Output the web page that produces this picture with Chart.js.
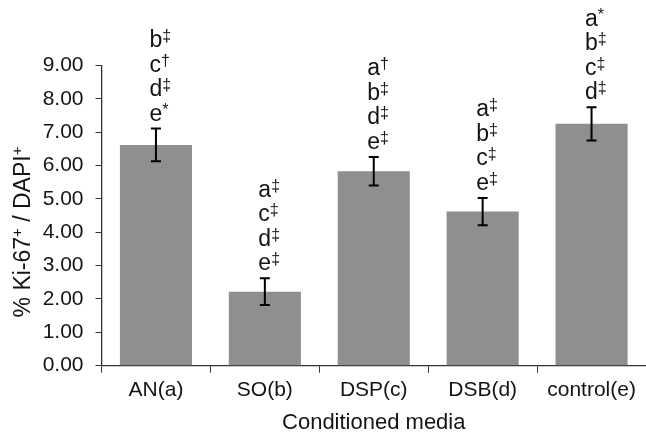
<!DOCTYPE html>
<html>
<head>
<meta charset="utf-8">
<script src="https://cdn.jsdelivr.net/npm/chart.js@4.4.1/dist/chart.umd.min.js"></script>
<style>
  html, body { margin: 0; padding: 0; background: #ffffff; }
  #wrap { width: 646px; height: 433px; position: relative; }
</style>
</head>
<body>
<div id="wrap"><canvas id="c" width="646" height="433"></canvas></div>
<script>
// ---- data ----
const categories = ["AN(a)", "SO(b)", "DSP(c)", "DSB(d)", "control(e)"];
const meanValues = [6.62, 2.22, 5.83, 4.62, 7.25];
const errorValues = [0.49, 0.40, 0.43, 0.41, 0.50];
const yTickLabels = ["0.00", "1.00", "2.00", "3.00", "4.00", "5.00", "6.00", "7.00", "8.00", "9.00"];
const annoLetters = [
  ["b", "c", "d", "e"],
  ["a", "c", "d", "e"],
  ["a", "b", "d", "e"],
  ["a", "b", "c", "e"],
  ["a", "b", "c", "d"]
];
const annoMarks = [
  ["‡", "†", "‡", "*"],
  ["‡", "‡", "‡", "‡"],
  ["†", "‡", "‡", "‡"],
  ["‡", "‡", "‡", "‡"],
  ["*", "‡", "‡", "‡"]
];
const xTitle = "Conditioned media";
const yTitleParts = [["% Ki-67", false], ["+", true], [" / DAPI", false], ["+", true]];

const FONT = "'Liberation Sans', Arial, sans-serif";
const TEXT = "#141414";
const AXIS = "#333333";

const errorAndLabels = {
  id: 'errorAndLabels',
  afterDatasetsDraw(chart) {
    const ctx = chart.ctx;
    const xs = chart.scales.x, ys = chart.scales.y;
    ctx.save();
    for (let i = 0; i < categories.length; i++) {
      const x = xs.getPixelForValue(i);
      const yT = ys.getPixelForValue(meanValues[i] + errorValues[i]);
      const yB = ys.getPixelForValue(meanValues[i] - errorValues[i]);
      ctx.strokeStyle = "#000";
      ctx.lineWidth = 2;
      ctx.beginPath();
      ctx.moveTo(x, yT); ctx.lineTo(x, yB);
      ctx.moveTo(x - 5, yT); ctx.lineTo(x + 5, yT);
      ctx.moveTo(x - 5, yB); ctx.lineTo(x + 5, yB);
      ctx.stroke();
      // annotations
      const letters = annoLetters[i], marks = annoMarks[i];
      const n = letters.length;
      const lineH = 24.5;
      const lastBase = yT - 8;
      ctx.fillStyle = TEXT;
      ctx.textBaseline = 'alphabetic';
      ctx.textAlign = 'left';
      for (let k = 0; k < n; k++) {
        const base = lastBase - (n - 1 - k) * lineH;
        const left = x - 6.5;
        ctx.font = "23px " + FONT;
        ctx.fillText(letters[k], left, base);
        const w = ctx.measureText(letters[k]).width;
        ctx.font = "16px " + FONT;
        ctx.fillText(marks[k], left + w, base - 6);
      }
    }
    // y axis title with superscripts
    ctx.translate(24, 232);
    ctx.rotate(-Math.PI / 2);
    let total = 0;
    for (const [t, sup] of yTitleParts) {
      ctx.font = (sup ? "15px " : "23px ") + FONT;
      total += ctx.measureText(t).width;
    }
    let cx = -total / 2;
    ctx.fillStyle = TEXT;
    ctx.textBaseline = 'middle';
    for (const [t, sup] of yTitleParts) {
      ctx.font = (sup ? "15px " : "23px ") + FONT;
      ctx.fillText(t, cx, sup ? -6 : 0);
      cx += ctx.measureText(t).width;
    }
    ctx.restore();
  }
};

new Chart(document.getElementById('c'), {
  type: 'bar',
  data: {
    labels: categories,
    datasets: [{
      data: meanValues,
      backgroundColor: '#8f8f8f',
      borderWidth: 0,
      categoryPercentage: 1.0,
      barPercentage: 0.662
    }]
  },
  options: {
    responsive: false,
    animation: false,
    events: [],
    layout: { padding: { left: 0, right: -5, top: 65.5, bottom: 0 } },
    plugins: { legend: { display: false }, tooltip: { enabled: false } },
    scales: {
      x: {
        afterFit(s) { s.height = 67.3; },
        grid: { display: true, drawOnChartArea: false, drawTicks: true, tickLength: 7, color: AXIS, lineWidth: 1, offset: true },
        border: { display: true, color: AXIS, width: 1.3 },
        ticks: { color: TEXT, font: { family: FONT, size: 21 }, padding: 5, maxRotation: 0, autoSkip: false },
        title: { display: true, text: xTitle, color: TEXT, font: { family: FONT, size: 22, lineHeight: 0.9 }, padding: { top: 0, bottom: 0 } }
      },
      y: {
        min: 0, max: 9,
        afterFit(s) { s.width = 101.5; },
        grid: { display: true, drawOnChartArea: false, drawTicks: true, tickLength: 6, color: AXIS, lineWidth: 1 },
        border: { display: true, color: AXIS, width: 1.3 },
        ticks: {
          stepSize: 1,
          color: TEXT,
          font: { family: FONT, size: 21 },
          padding: 12,
          callback: (v, idx) => yTickLabels[idx]
        }
      }
    }
  },
  plugins: [errorAndLabels]
});
</script>
</body>
</html>
